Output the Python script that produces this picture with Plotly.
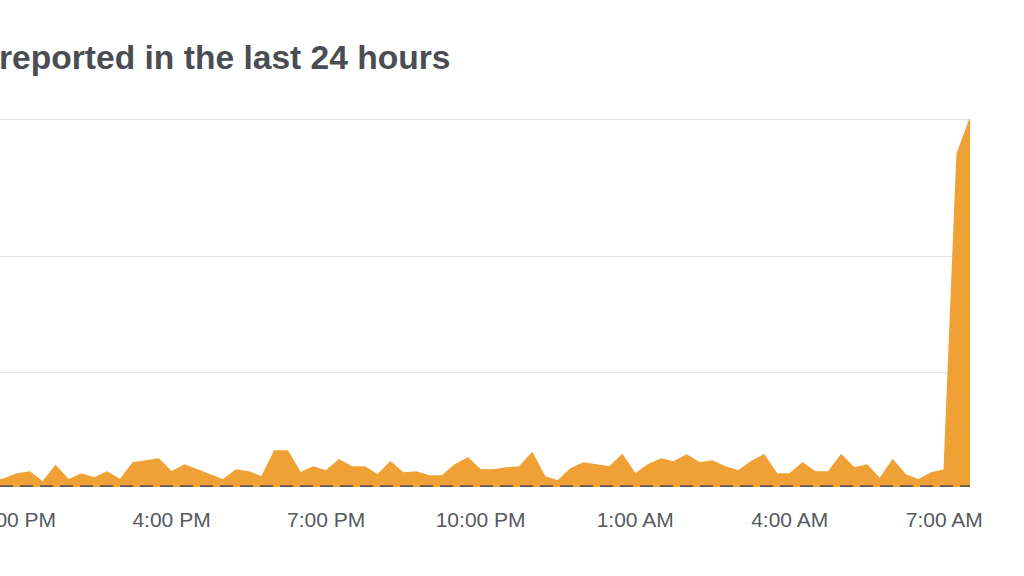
import pandas as pd
import plotly.graph_objects as go

# 15-minute report counts (pixel-scale units), 12:30 PM -> 7:30 AM
start_time = "2024-01-01 12:30"
end_time = "2024-01-02 07:30"
reports = [
    5, 8,
    13, 15, 5, 21, 7, 13, 9, 15, 7, 24, 26, 28, 15, 22, 17, 12, 7, 17,
    15, 10, 36, 36, 14, 20, 16, 27, 20, 20, 12, 25, 14, 15, 11, 11,
    22, 29, 17, 17, 19, 20, 34, 10, 6, 18, 24, 22, 20, 32, 13, 22,
    28, 25, 32, 24, 26, 20, 16, 25, 32, 13, 13, 24, 15, 15, 32, 19,
    22, 8, 27, 12, 7, 14, 17, 333, 368,
]
times = pd.date_range(start_time, end_time, freq="15min")

tick_times = ["2024-01-01 13:00", "2024-01-01 16:00", "2024-01-01 19:00",
              "2024-01-01 22:00", "2024-01-02 01:00", "2024-01-02 04:00",
              "2024-01-02 07:00"]
tick_labels = ["1:00 PM", "4:00 PM", "7:00 PM", "10:00 PM", "1:00 AM",
               "4:00 AM", "7:00 AM"]
grid_values = [115, 231, 368]

title_text = "reported in the last 24 hours"

orange = "#F0A135"

fig = go.Figure()
fig.add_trace(go.Scatter(
    x=times, y=reports, mode="lines", fill="tozeroy",
    line=dict(color=orange, width=1.5), fillcolor=orange,
    hoverinfo="skip", showlegend=False,
))

fig.add_shape(type="line", xref="paper", yref="y", x0=0, x1=1, y0=0, y1=0,
              line=dict(color="#585858", width=3.5, dash="13px,7px"))

fig.add_annotation(
    text=title_text, xref="paper", yref="paper", x=0, xanchor="left",
    xshift=-3, y=1.11, yanchor="middle", showarrow=False,
    font=dict(family="Liberation Sans, Arial, sans-serif", size=33.6,
              color="#4a4e54", weight="bold"),
)

fig.update_layout(
    template="none",
    width=1024, height=576,
    margin=dict(l=0, r=54, t=100, b=89, pad=0),
    paper_bgcolor="white", plot_bgcolor="white",
    showlegend=False,
    xaxis=dict(
        type="date",
        range=["2024-01-01 12:40:12", end_time],
        tickvals=tick_times, ticktext=tick_labels,
        showgrid=False, showline=False, zeroline=False,
        ticks="", ticklabelstandoff=18, automargin=False,
        ticklabeloverflow="allow",
        tickfont=dict(family="Liberation Sans, Arial, sans-serif",
                      size=21, color="#555a60"),
    ),
    yaxis=dict(
        range=[0, 387], tickvals=grid_values, showticklabels=False,
        showgrid=True, gridcolor="#e2e2e2", gridwidth=1,
        zeroline=False, showline=False, ticks="", automargin=False,
    ),
)

fig.write_html(
    "out.html",
    config={"displayModeBar": False, "staticPlot": True},
    post_script="document.body.style.margin='0';document.body.style.overflow='hidden';",
)
